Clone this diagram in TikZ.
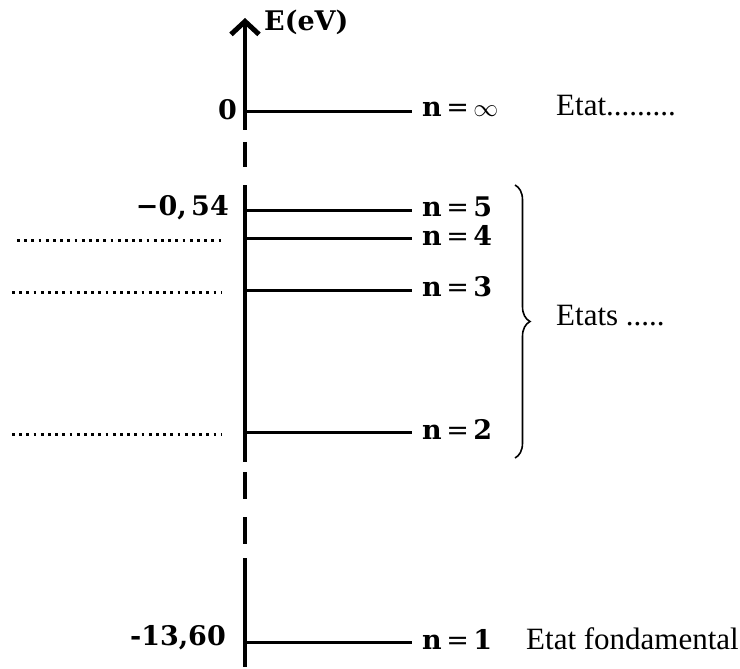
\documentclass[tikz,border=0pt]{standalone}
\usepackage{fontspec}
\setmainfont{Liberation Serif}
\newfontfamily\lblfont{DejaVu Serif}
\usetikzlibrary{arrows.meta,decorations.pathreplacing}
\newcommand{\lev}[1]{{\bfseries n}\,{\mdseries =}\,{\bfseries #1}}
\begin{document}
\begin{tikzpicture}[x=1pt,y=-1pt,
  axisline/.style={line width=4.2pt},
  levelline/.style={line width=3pt},
  blankline/.style={line width=3pt, dash pattern=on 2.8pt off 4.4pt},
  lbl/.style={font=\lblfont\bfseries\fontsize{27}{31}\selectfont, inner sep=0pt},
  txt/.style={font=\fontsize{31}{35}\selectfont, inner sep=0pt},
]
\useasboundingbox (0,0) rectangle (740,669);
% axis pieces
\coordinate (top) at (245,18);
\coordinate (s1) at (245,130);
\coordinate (d1a) at (245,142); \coordinate (d1b) at (245,167);
\coordinate (s2a) at (245,185); \coordinate (s2b) at (245,462);
\coordinate (d2a) at (245,472); \coordinate (d2b) at (245,499);
\coordinate (d3a) at (245,517); \coordinate (d3b) at (245,544);
\coordinate (s3a) at (245,558); \coordinate (s3b) at (245,667);
\draw[axisline,-{Straight Barb[length=13pt,width=28pt,line width=5pt]}] (s1) -- (top);
\draw[axisline] (d1a) -- (d1b);
\draw[axisline] (s2a) -- (s2b);
\draw[axisline] (d2a) -- (d2b);
\draw[axisline] (d3a) -- (d3b);
\draw[axisline] (s3a) -- (s3b);
\node[lbl, anchor=west] (E) at (264,22) {E(eV)};
% levels
\foreach \nm/\y/\t in {inf/112/$\infty$, 5/210/5, 4/238/4, 3/290/3, 2/432/2, 1/642/1}{
  \coordinate (a\nm) at (246,\y);
  \coordinate (e\nm) at (412,\y);
  \node[lbl, anchor=west] (n\nm) at (422,\y-3) {\lev{\t}};
  \draw[levelline] (a\nm) -- (e\nm);
}
% left values
\node[lbl, anchor=east] (v0) at (237,110) {0};
\node[lbl, anchor=east] (v5) at (229,208) {−0,\,54};
\node[lbl, anchor=east] (v1) at (226,638) {-13,60};
% blanks
\coordinate (b4a) at (17,240); \coordinate (b4b) at (225,240);
\coordinate (b3a) at (12,292); \coordinate (b3b) at (222,292);
\coordinate (b2a) at (12,434); \coordinate (b2b) at (222,434);
\draw[blankline] (b4a) -- (b4b);
\draw[blankline] (b3a) -- (b3b);
\draw[blankline] (b2a) -- (b2b);
% brace
\coordinate (brt) at (515,185); \coordinate (brb) at (515,458);
\draw[line width=1.6pt, decorate, decoration={brace, amplitude=15pt}] (brt) -- (brb);
% right texts
\node[txt, anchor=west] (etat) at (556,106) {Etat.........};
\node[txt, anchor=west] (etats) at (556,316) {Etats .....};
\node[txt, anchor=west] (fond) at (526,639) {Etat fondamental};
\end{tikzpicture}
\end{document}
